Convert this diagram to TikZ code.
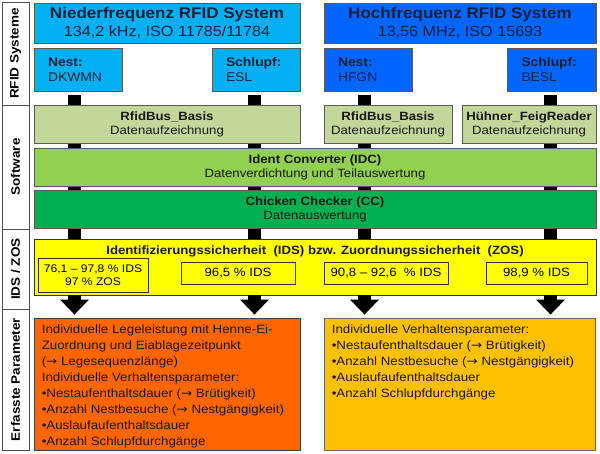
\documentclass[tikz,border=0pt]{standalone}
\usepackage{fontspec}
\setmainfont{Liberation Sans}[FakeStretch=1.1]
\newfontfamily\arrowfont{DejaVu Sans}[FakeStretch=1.1]
\newcommand{\ra}{{\arrowfont →}}
\usetikzlibrary{arrows.meta, backgrounds}

\definecolor{nfblue}{HTML}{00B0F0}
\definecolor{hfblue}{HTML}{0066FF}
\definecolor{navytext}{HTML}{15203F}
\definecolor{swlight}{HTML}{C4D79B}
\definecolor{swmid}{HTML}{92D050}
\definecolor{swdark}{HTML}{00B050}
\definecolor{idsyellow}{HTML}{FFFF00}
\definecolor{erforange}{HTML}{FF6600}
\definecolor{erfgold}{HTML}{FFC000}

\begin{document}
\begin{tikzpicture}[x=1pt, y=-1pt,
  box/.style={draw=black!65, line width=0.8pt, inner sep=0pt, align=center},
  sysbox/.style={box, minimum height=40pt, text=navytext,
    font=\fontsize{14.7}{18}\selectfont},
  tagbox/.style={box, minimum height=43pt, minimum width=88pt, text width=60pt,
    inner xsep=14pt, align=left, text=navytext, font=\fontsize{12.6}{15.5}\selectfont},
  swbox/.style={box, minimum height=38pt, text=black!90,
    font=\fontsize{12}{14}\selectfont},
  idsbox/.style={box, draw=black!80, fill=idsyellow, minimum height=22pt,
    font=\fontsize{12}{13.5}\selectfont},
  erfbox/.style={box, minimum height=132pt},
  erftext/.style={anchor=north west, align=left, inner xsep=8pt, inner ysep=7pt,
    text=black!90, font=\fontsize{12.1}{16}\selectfont},
  rowlabel/.style={draw=black!70, line width=0.8pt, rotate=90, minimum height=27pt,
    inner sep=0pt, font=\bfseries\fontsize{12.3}{13}\selectfont},
  bar/.style={line width=13pt, black},
  bigarrow/.style={line width=13pt, black, -{Triangle[width=28pt, length=15pt]}, shorten >=3pt}]

  \useasboundingbox (0,0) rectangle (600,453);

  % Row labels
  \node[rowlabel, minimum width=103pt] (lRfid) at (15.5,53.5) {RFID Systeme};
  \node[rowlabel, minimum width=124pt] (lSoft) at (15.5,167) {Software};
  \node[rowlabel, minimum width=80pt] (lIds) at (15.5,269) {IDS / ZOS};
  \node[rowlabel, minimum width=141pt] (lErf) at (15.5,379.5) {Erfasste Parameter};

  % RFID systems
  \node[sysbox, fill=nfblue, minimum width=266pt] (nf) at (167,23)
    {{\bfseries\fontsize{15.5}{18}\selectfont Niederfrequenz RFID System}\\134,2 kHz, ISO 11785/11784};
  \node[sysbox, fill=hfblue, minimum width=272pt] (hf) at (460,23)
    {{\bfseries\fontsize{15.5}{18}\selectfont Hochfrequenz RFID System}\\13,56 MHz, ISO 15693};
  \node[tagbox, fill=nfblue] (nestNF) at (78,69.5) {\textbf{Nest:}\\DKWMN};
  \node[tagbox, fill=nfblue] (schlNF) at (256,69.5) {\textbf{Schlupf:}\\ESL};
  \node[tagbox, fill=hfblue] (nestHF) at (368,69.5) {\textbf{Nest:}\\HFGN};
  \node[tagbox, fill=hfblue, minimum width=89pt] (schlHF) at (551.5,69.5) {\textbf{Schlupf:}\\BESL};

  % Software
  \node[swbox, fill=swlight, minimum width=266pt] (rbNF) at (167,124)
    {\textbf{RfidBus\_Basis}\\Datenaufzeichnung};
  \node[swbox, fill=swlight, minimum width=128pt] (rbHF) at (388,124)
    {\textbf{RfidBus\_Basis}\\Datenaufzeichnung};
  \node[swbox, fill=swlight, minimum width=134pt] (feig) at (529,124)
    {\textbf{Hühner\_FeigReader}\\Datenaufzeichnung};
  \node[swbox, fill=swmid, minimum width=562pt] (idc) at (315,167)
    {\textbf{Ident Converter (IDC)}\\Datenverdichtung und Teilauswertung};
  \node[swbox, fill=swdark, minimum width=562pt] (cc) at (315,209)
    {\textbf{Chicken Checker (CC)}\\Datenauswertung};

  % IDS / ZOS
  \node[box, draw=black!80, fill=idsyellow, minimum width=562pt, minimum height=56pt] (ids) at (315,267) {};
  \node[font=\bfseries\fontsize{12}{13}\selectfont, text=black!90] (idsTitle) at (315,251)
    {Identifizierungssicherheit\ \ (IDS) bzw. Zuordnungssicherheit\ \ (ZOS)};
  \node[idsbox, minimum width=110pt, minimum height=34pt, font=\fontsize{11}{13.5}\selectfont] (ids1) at (93,275)
    {76,1 -- 97,8 \% IDS\\97 \% ZOS};
  \node[idsbox, minimum width=114pt] (ids2) at (238,273) {96,5 \% IDS};
  \node[idsbox, minimum width=124pt] (ids3) at (386,273) {90,8 -- 92,6\ \ \% IDS};
  \node[idsbox, minimum width=101pt] (ids4) at (536.5,273) {98,9 \% IDS};

  % Recorded parameters
  \node[erfbox, fill=erforange, draw=black!75, minimum width=266pt] (erfNF) at (167,384) {};
  \node[erfbox, fill=erfgold, draw=black!60, minimum width=271pt] (erfHF) at (459.5,384) {};
  \node[erftext] (txtNF) at (erfNF.north west)
    {Individuelle Legeleistung mit Henne-Ei-\\Zuordnung und Eiablagezeitpunkt\\(\ra{} Legesequenzlänge)\\
     Individuelle Verhaltensparameter:\\•Nestaufenthaltsdauer (\ra{} Brütigkeit)\\
     •Anzahl Nestbesuche (\ra{} Nestgängigkeit)\\•Auslaufaufenthaltsdauer\\•Anzahl Schlupfdurchgänge};
  \node[erftext] (txtHF) at (erfHF.north west)
    {Individuelle Verhaltensparameter:\\•Nestaufenthaltsdauer (\ra{} Brütigkeit)\\
     •Anzahl Nestbesuche (\ra{} Nestgängigkeit)\\•Auslaufaufenthaltsdauer\\•Anzahl Schlupfdurchgänge};

  % Data flow
  \coordinate (c1) at (74.5,0);
  \coordinate (c2) at (254.5,0);
  \coordinate (c3) at (364.5,0);
  \coordinate (c4) at (550.5,0);
  \begin{scope}[on background layer]
    \foreach \c/\t in {c1/nestNF, c2/schlNF, c3/nestHF, c4/schlHF}
      \draw[bar, shorten <=4pt] (\t.south -| \c) -- (ids.north -| \c);
  \end{scope}
  \foreach \c/\b in {c1/erfNF, c2/erfNF, c3/erfHF, c4/erfHF}
    \draw[bigarrow] (ids.south -| \c) -- (\b.north -| \c);
\end{tikzpicture}
\end{document}
